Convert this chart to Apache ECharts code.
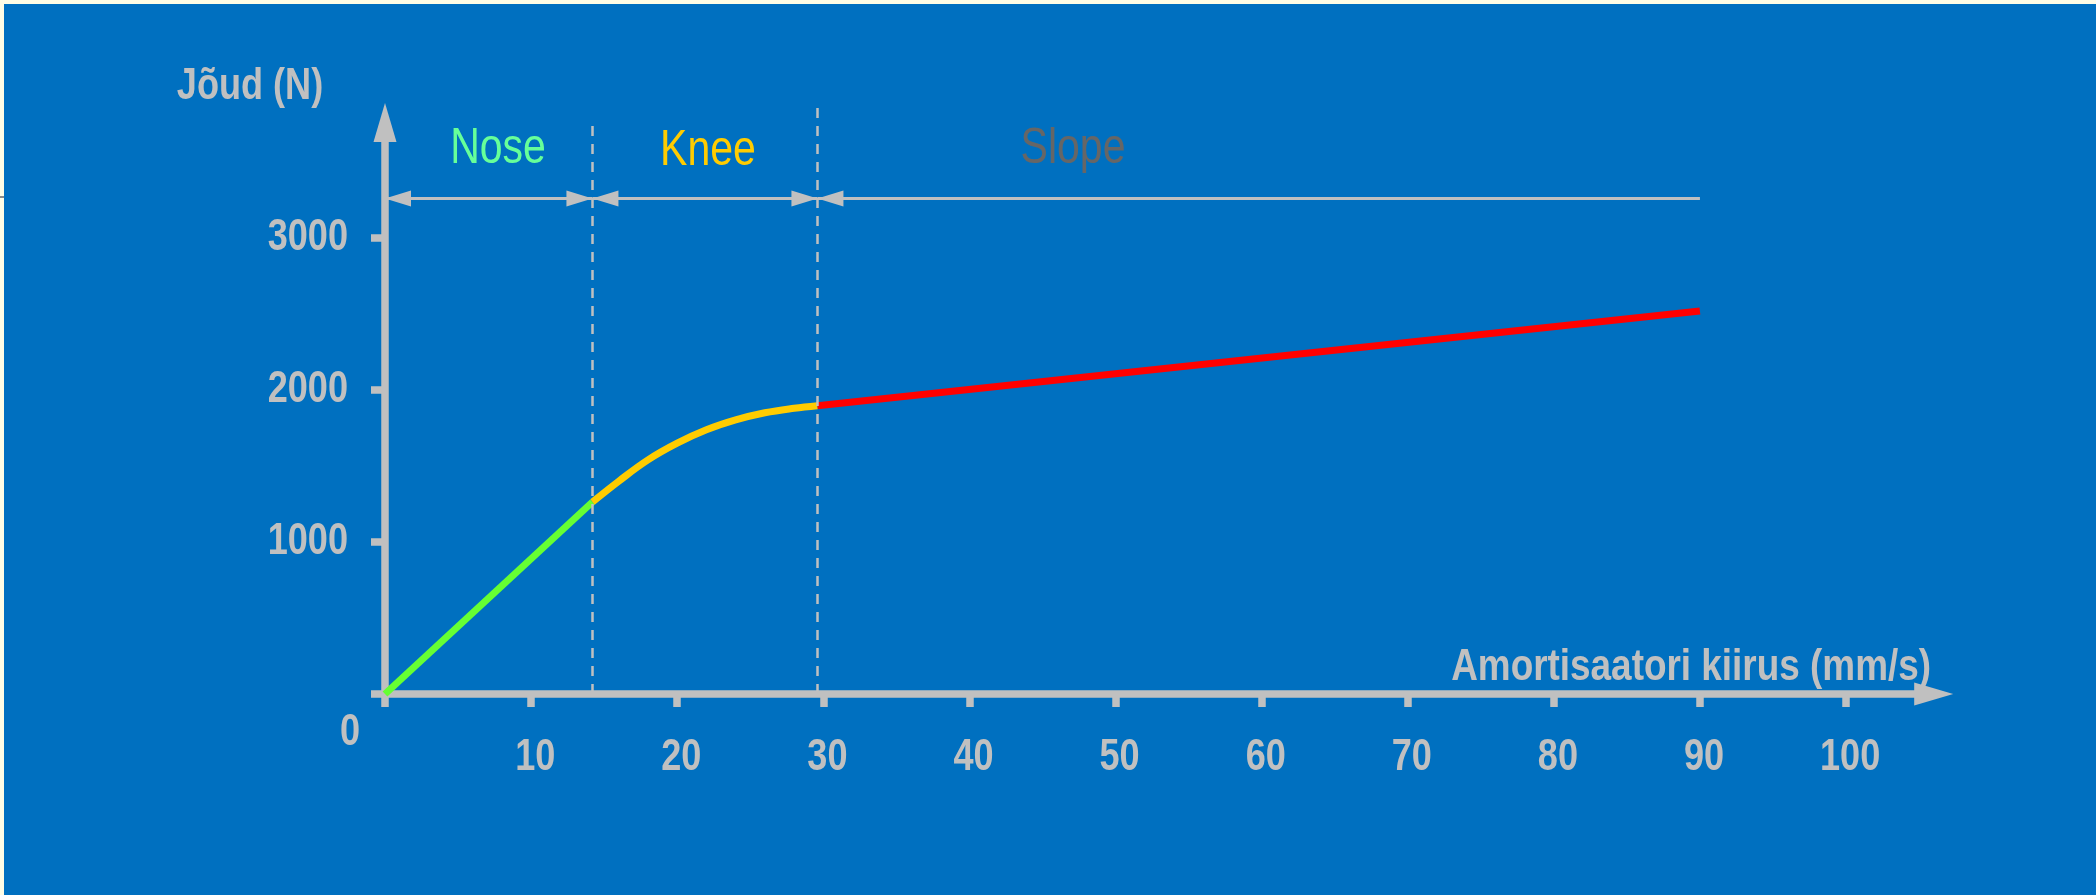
<!DOCTYPE html>
<html>
<head>
<meta charset="utf-8">
<title>Amortisaatori karakteristik</title>
<script src="https://cdn.jsdelivr.net/npm/echarts@6/dist/echarts.min.js"></script>
<style>
  html, body { margin: 0; padding: 0; background: #0070c0; }
  #chart { width: 2096px; height: 895px; }
</style>
</head>
<body>
<div id="chart"></div>
<script>
// tick values
const xTicks = [0, 10, 20, 30, 40, 50, 60, 70, 80, 90, 100]
const yTicks = [0, 1000, 2000, 3000]
const yLabelTicks = [1000, 2000, 3000]

// curve pieces: [kiirus mm/s, jõud N]
const noseCurve = [[0, 0], [14.2, 1263]]
const kneeCurve = [[14.2, 1263], [16, 1400], [18, 1540], [20, 1650], [22, 1738], [24, 1803], [26, 1850], [28, 1880], [29.6, 1897]]
const slopeCurve = [[29.6, 1897], [90, 2520]]

// zones
const zoneNames = ['Nose', 'Knee', 'Slope']
const zoneBounds = [0, 14.2, 29.6, 90]
const dividerTops = [3780, 3875]
const arrowLevel = 3260

const GREY = '#c0c0c0'
const FONT = "'Liberation Sans', Arial, sans-serif"
const NARROW = 0.82 // the original uses a narrow face

const chart = echarts.init(document.getElementById('chart'), null, { renderer: 'canvas' })

// same pixel scale in both grids, the second one is just taller
const gridLeft = 385
const gridBottom = 201
const gridRight = 162.3
const pxPerN = 0.152
const originY = 895 - gridBottom

// arrow head with its tip on the zone border
const head = { symbol: 'triangle', symbolSize: [16, 26], symbolOffset: [0, '50%'] }

// dimension arrows between zone borders
const arrowLines = zoneNames.map((name, i) => [
  Object.assign({ coord: [zoneBounds[i], arrowLevel] }, head),
  i === zoneNames.length - 1
    ? { coord: [zoneBounds[i + 1], arrowLevel], symbol: 'none' }
    : Object.assign({ coord: [zoneBounds[i + 1], arrowLevel] }, head)
])

const dividerLines = dividerTops.map((top, i) => [
  { coord: [zoneBounds[i + 1], 0] },
  { coord: [zoneBounds[i + 1], top] }
])

const label = (text, x, y, opts) => ({
  type: 'text', x, y, scaleX: NARROW, silent: true,
  style: Object.assign({ text, fill: GREY, font: `bold 44px ${FONT}`, align: 'center', verticalAlign: 'middle' }, opts)
})

const option = {
  backgroundColor: '#0070c0',
  animation: false,
  grid: [
    { left: gridLeft, right: gridRight, bottom: gridBottom, top: originY - 3760 * pxPerN },
    { left: gridLeft, right: gridRight, bottom: gridBottom, top: originY - 3900 * pxPerN }
  ],
  xAxis: [
    {
      type: 'value', gridIndex: 0, min: 0, max: 106,
      axisLine: { show: true, symbol: ['none', 'triangle'], symbolSize: [23, 39], lineStyle: { color: GREY, width: 7.5 } },
      axisTick: { show: true, customValues: xTicks, length: 13, lineStyle: { color: GREY, width: 7.5 } },
      axisLabel: {
        customValues: xTicks.slice(1), margin: 42, padding: [0, 0, 0, 10],
        color: GREY, fontFamily: FONT, fontWeight: 'bold', fontSize: 44
      },
      splitLine: { show: false }
    },
    { type: 'value', gridIndex: 1, min: 0, max: 106, show: false }
  ],
  yAxis: [
    {
      type: 'value', gridIndex: 0, min: 0, max: 3760,
      axisLine: { show: true, symbol: ['none', 'triangle'], symbolSize: [23, 39], lineStyle: { color: GREY, width: 7.5 } },
      axisTick: { show: true, customValues: yTicks, length: 14, lineStyle: { color: GREY, width: 7.5 } },
      axisLabel: {
        customValues: yLabelTicks, margin: 37, formatter: v => String(v), padding: [10, 0, 0, 0],
        color: GREY, fontFamily: FONT, fontWeight: 'bold', fontSize: 44
      },
      splitLine: { show: false }
    },
    { type: 'value', gridIndex: 1, min: 0, max: 3900, show: false }
  ],
  series: [
    {
      name: 'guides', type: 'line', xAxisIndex: 1, yAxisIndex: 1, data: [], z: 1,
      markLine: {
        silent: true, symbol: ['none', 'none'], label: { show: false },
        lineStyle: { color: GREY, width: 2.5, type: [10, 8] },
        emphasis: { disabled: true },
        data: dividerLines
      }
    },
    {
      name: 'zones', type: 'line', xAxisIndex: 1, yAxisIndex: 1, data: [], z: 1,
      markLine: {
        silent: true,
        symbol: ['triangle', 'triangle'],
        symbolSize: 16,
        label: { show: false },
        lineStyle: { color: GREY, width: 3, type: 'solid' },
        emphasis: { disabled: true },
        data: arrowLines
      }
    },
    {
      name: 'Nose', type: 'line', data: noseCurve, showSymbol: false, z: 3,
      lineStyle: { color: '#66ff33', width: 7 }
    },
    {
      name: 'Knee', type: 'line', data: kneeCurve, showSymbol: false, smooth: 0.4, z: 3,
      lineStyle: { color: '#ffcc00', width: 7 }
    },
    {
      name: 'Slope', type: 'line', data: slopeCurve, showSymbol: false, z: 3,
      lineStyle: { color: '#ff0000', width: 7 }
    }
  ],
  graphic: [
    // page edges
    { type: 'rect', shape: { x: 0, y: 0, width: 2096, height: 4 }, style: { fill: '#fffde6' }, silent: true },
    { type: 'rect', shape: { x: 0, y: 0, width: 4, height: 895 }, style: { fill: '#fffde6' }, silent: true },
    { type: 'line', shape: { x1: 0, y1: 197, x2: 4, y2: 197 }, style: { stroke: '#8a8a8a', lineWidth: 2 }, silent: true },
    // axis names
    label('Jõud (N)', 250, 87),
    label('Amortisaatori kiirus (mm/s)', 1931, 668, { align: 'right', font: `bold 45px ${FONT}` }),
    label('0', 350, 733),
    // zone titles
    label(zoneNames[0], 498, 149, { fill: '#66ff99', font: `50px ${FONT}` }),
    label(zoneNames[1], 708, 151, { fill: '#ffcc00', font: `50px ${FONT}` }),
    label(zoneNames[2], 1073, 149, { fill: '#666666', font: `50px ${FONT}` })
  ]
}

chart.setOption(option)

// squeeze the tick labels to the narrow look of the original
chart.getZr().storage.getRoots().forEach(root => {
  root.traverse && root.traverse(el => {
    if (el.type === 'text' && typeof el.anid === 'string' && el.anid.indexOf('label_') === 0) {
      el.scaleX = NARROW
      el.markRedraw()
    }
  })
})
</script>
</body>
</html>
